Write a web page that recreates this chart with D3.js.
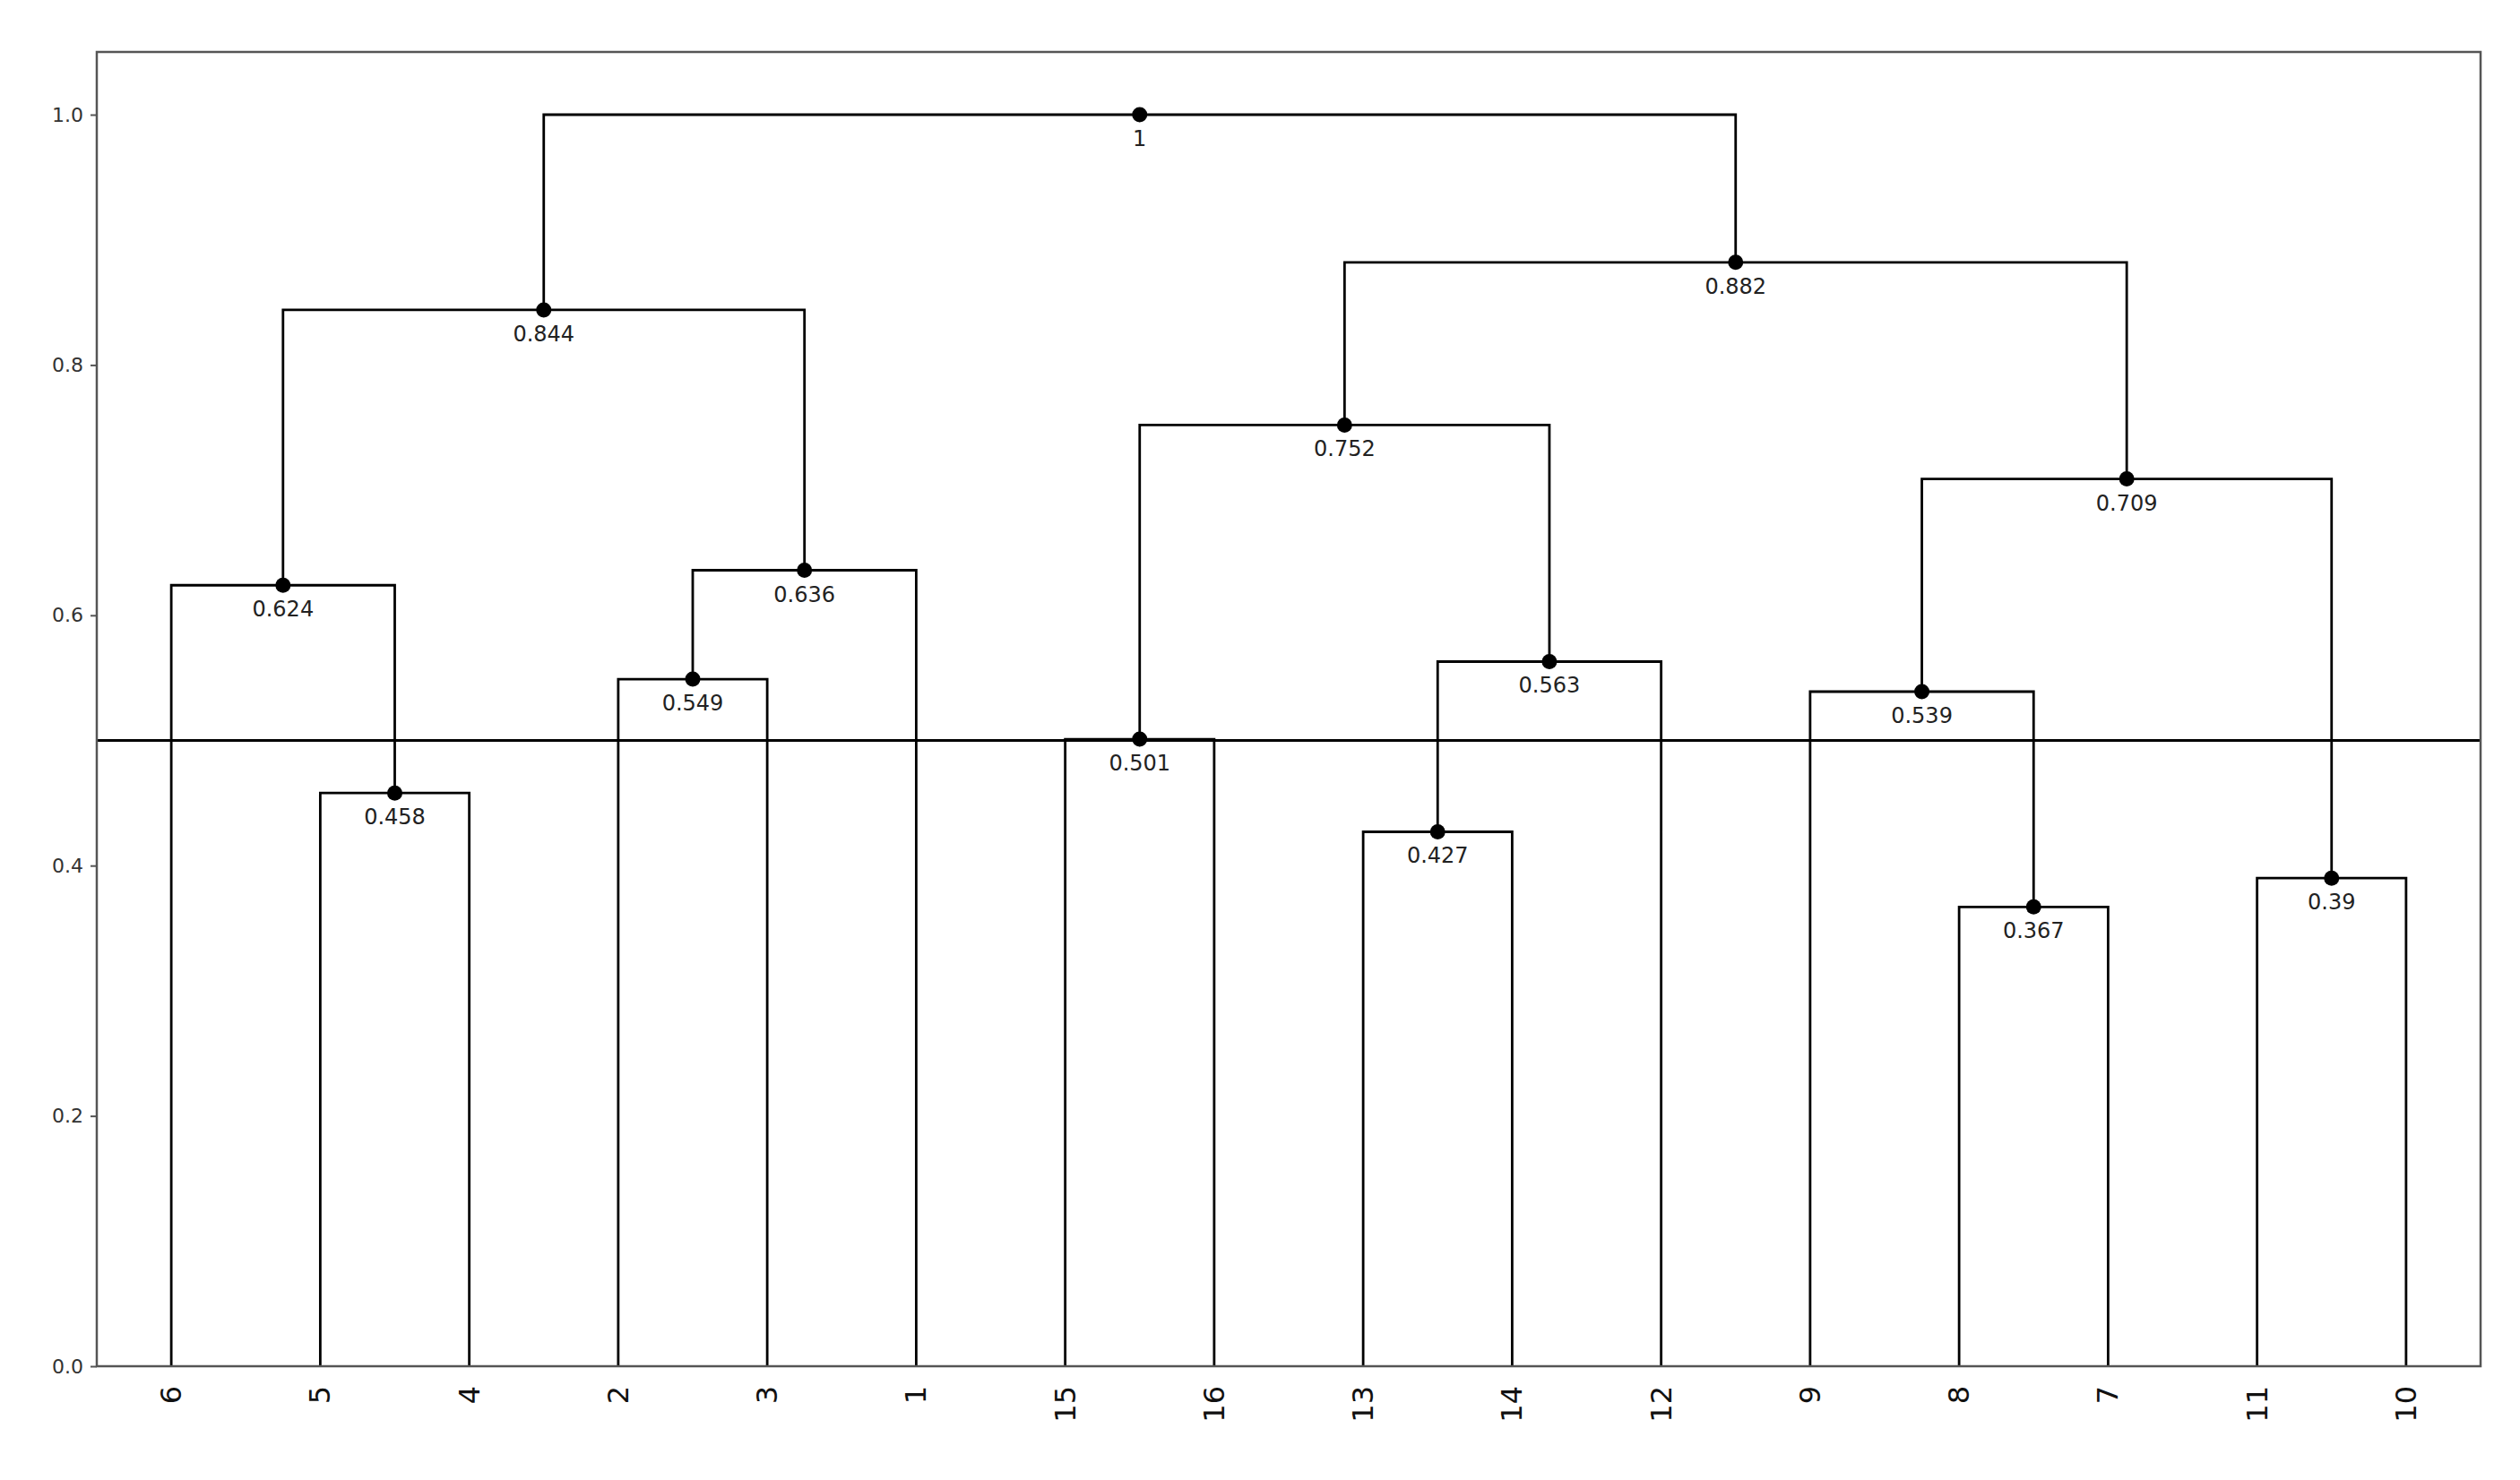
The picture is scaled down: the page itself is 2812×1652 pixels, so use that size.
<!DOCTYPE html>
<html><head><meta charset="utf-8">
<script src="https://cdn.jsdelivr.net/npm/d3@7"></script>
<style>body{margin:0;background:#fff}text{font-family:"DejaVu Sans",sans-serif}</style>
</head><body><svg width="2812" height="1652"></svg>
<script>
const leafOrder = ["6","5","4","2","3","1","15","16","13","14","12","9","8","7","11","10"];
const yTicks = [0, 0.2, 0.4, 0.6, 0.8, 1.0];
const threshold = 0.5;
// merges: [left, right, height]; leaves are names, inner nodes refer by index
const merges = [
  ["5", "4", 0.458],     // 0
  ["6", 0, 0.624],       // 1
  ["2", "3", 0.549],     // 2
  [2, "1", 0.636],       // 3
  [1, 3, 0.844],         // 4
  ["15", "16", 0.501],   // 5
  ["13", "14", 0.427],   // 6
  [6, "12", 0.563],      // 7
  [5, 7, 0.752],         // 8
  ["8", "7", 0.367],     // 9
  ["9", 9, 0.539],       // 10
  ["11", "10", 0.39],    // 11
  [10, 11, 0.709],       // 12
  [8, 12, 0.882],        // 13
  [4, 13, 1]             // 14
];

const svg = d3.select('svg');
const margin = { left: 108, right: 44, top: 58 };
const W = 2812;

const x = d3.scalePoint().domain(leafOrder)
  .range([margin.left, W - margin.right]).padding(0.5);
const y = d3.scaleLinear().domain([0, 1]).range([1525, 128]);

// position of a node (leaf or merge index)
const pos = n => typeof n === 'string'
  ? { x: x(n), y: 0 }
  : { x: (pos(merges[n][0]).x + pos(merges[n][1]).x) / 2, y: merges[n][2] };

const g = svg.append('g');
merges.forEach(m => {
  const a = pos(m[0]), b = pos(m[1]);
  g.append('path')
    .attr('d', `M${a.x},${y(a.y)}V${y(m[2])}H${b.x}V${y(b.y)}`)
    .attr('fill', 'none').attr('stroke', '#000').attr('stroke-width', 2.8);
});

// threshold line
svg.append('line')
  .attr('x1', margin.left).attr('x2', W - margin.right)
  .attr('y1', y(threshold)).attr('y2', y(threshold))
  .attr('stroke', '#000').attr('stroke-width', 2.8);

// node dots + labels
merges.forEach((m, i) => {
  const p = pos(i);
  svg.append('circle').attr('cx', p.x).attr('cy', y(p.y)).attr('r', 8.5).attr('fill', '#000');
  svg.append('text').attr('x', p.x).attr('y', y(p.y) + 35)
    .attr('text-anchor', 'middle').attr('font-size', 24).attr('fill', '#222')
    .text(String(m[2]));
});

// frame
svg.append('rect')
  .attr('x', margin.left).attr('y', margin.top)
  .attr('width', W - margin.right - margin.left).attr('height', y(0) - margin.top)
  .attr('fill', 'none').attr('stroke', '#555').attr('stroke-width', 2.5);

// y axis
svg.append('g').attr('transform', `translate(${margin.left},0)`)
  .call(d3.axisLeft(y).tickValues(yTicks).tickFormat(d3.format('.1f')).tickSize(7).tickPadding(8))
  .call(g => g.select('.domain').remove())
  .call(g => g.selectAll('text').attr('font-size', 22).attr('fill', '#333').style('font-family', '"DejaVu Sans"'))
  .call(g => g.selectAll('line').attr('stroke', '#555').attr('stroke-width', 2));

// x labels
svg.append('g').selectAll('text').data(leafOrder).join('text')
  .attr('transform', d => `translate(${x(d) + 11},${y(0) + 22}) rotate(-90)`)
  .attr('text-anchor', 'end').attr('font-size', 32).attr('fill', '#111')
  .text(d => d);
</script></body></html>
